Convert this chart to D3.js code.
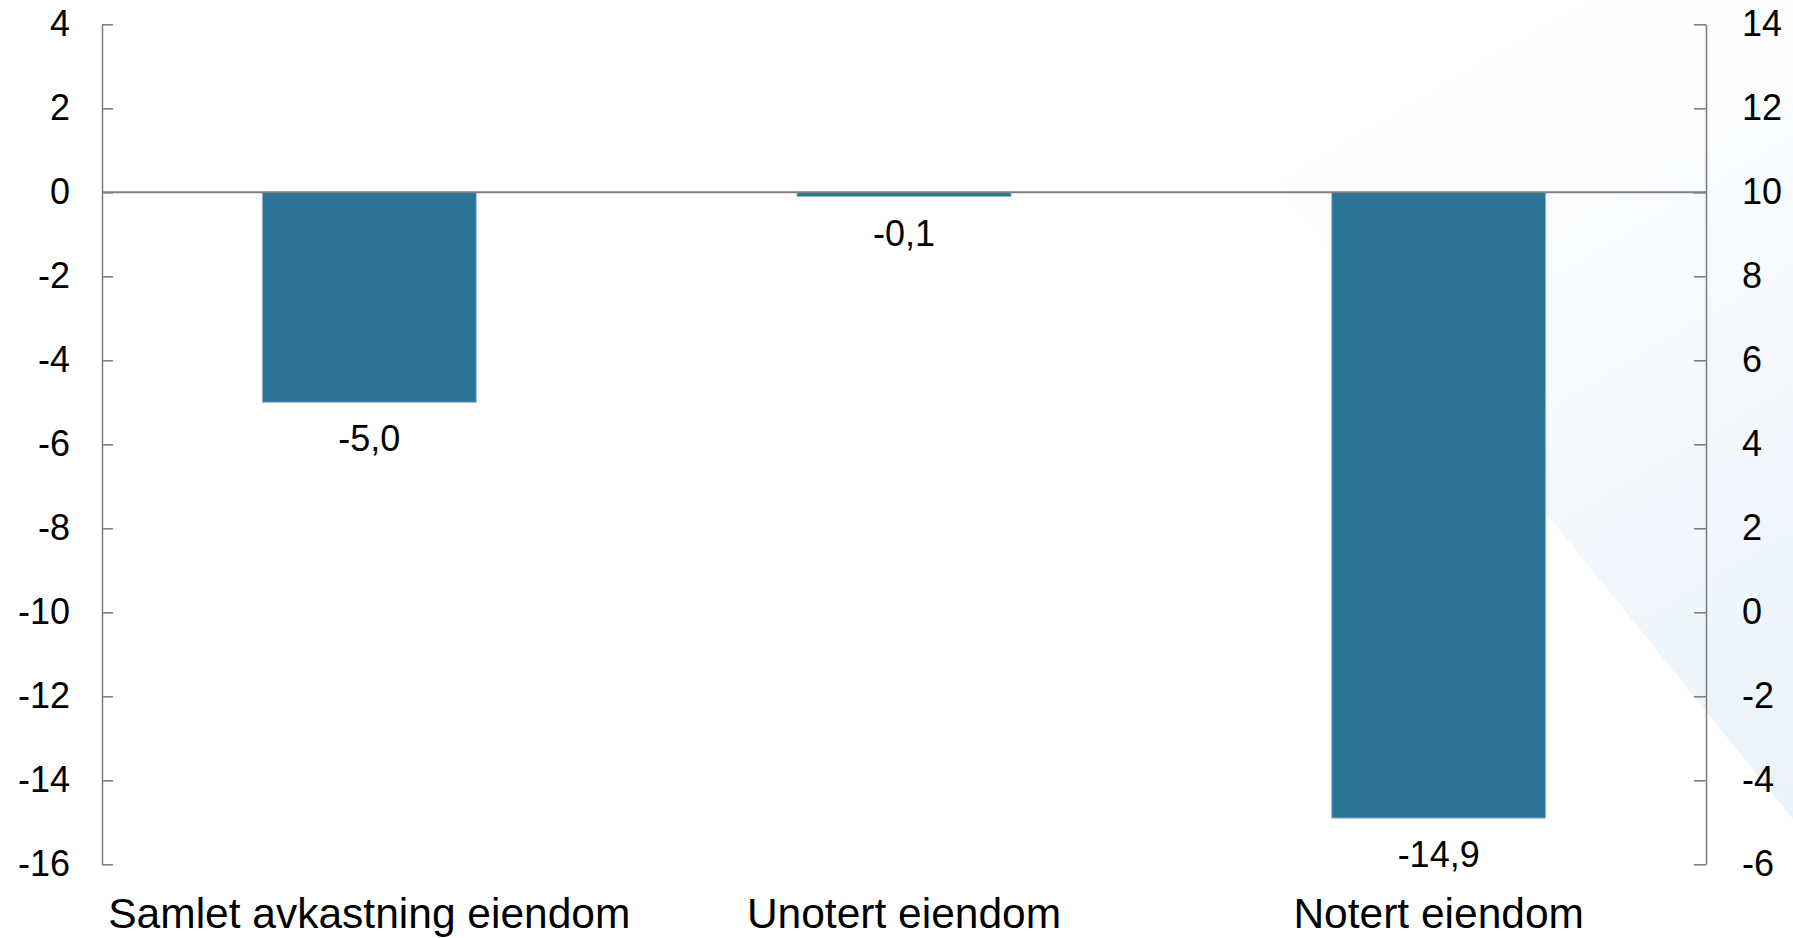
<!DOCTYPE html>
<html>
<head>
<meta charset="utf-8">
<script src="https://cdn.jsdelivr.net/npm/d3@7"></script>
<style>
  html, body { margin: 0; padding: 0; background: #ffffff; }
  svg { display: block; }
  text { font-family: "Liberation Sans", Arial, sans-serif; fill: #000; }
</style>
</head>
<body>
<svg id="chart" width="1793" height="938"></svg>
<script>
// ---- Data ----
const categories = ["Samlet avkastning eiendom", "Unotert eiendom", "Notert eiendom"];
const values = [-5.0, -0.1, -14.9];
const leftTicks = [4, 2, 0, -2, -4, -6, -8, -10, -12, -14, -16];
const rightTicks = [14, 12, 10, 8, 6, 4, 2, 0, -2, -4, -6];

(function () {
  // ---- Layout ----
  const plotL = 102, plotR = 1706, plotT = 24.3, plotB = 864.3;
  const svg = d3.select("#chart");

  const x = d3.scaleBand().domain(categories).range([plotL, plotR]).paddingInner(0.6).paddingOuter(0.3);
  const y = d3.scaleLinear().domain([4, -16]).range([plotT, plotB]);
  const y2 = d3.scaleLinear().domain([14, -6]).range([plotT, plotB]);

  // ---- Background decorative gradient shape ----
  const defs = svg.append("defs");
  const grad = defs.append("linearGradient").attr("id", "bgGrad")
    .attr("gradientUnits", "userSpaceOnUse")
    .attr("x1", 1380).attr("y1", 120).attr("x2", 1793).attr("y2", 820);
  grad.append("stop").attr("offset", "0").attr("stop-color", "#ffffff");
  grad.append("stop").attr("offset", "1").attr("stop-color", "#e9f2fb");
  svg.append("path")
    .attr("d", "M1132,0 L1793,0 L1793,819 Z")
    .attr("fill", "url(#bgGrad)");

  // ---- Bars ----
  svg.append("g").selectAll("rect").data(values).join("rect")
    .attr("x", (d, i) => x(categories[i]))
    .attr("width", x.bandwidth())
    .attr("y", d => y(Math.max(0, d)))
    .attr("height", d => Math.abs(y(d) - y(0)))
    .attr("fill", "#2c7398")
    .attr("stroke", "#8fb6cf")
    .attr("stroke-width", 1);

  // ---- Zero line ----
  svg.append("line")
    .attr("x1", plotL).attr("x2", plotR)
    .attr("y1", y(0)).attr("y2", y(0))
    .attr("stroke", "#808080").attr("stroke-width", 2);

  // ---- Axes ----
  const fmtTick = d => String(d);
  const gL = svg.append("g").attr("transform", `translate(${plotL},0)`)
    .call(d3.axisLeft(y).tickValues(leftTicks).tickFormat(fmtTick)
      .tickSizeInner(-11).tickSizeOuter(0).tickPadding(32));
  const gR = svg.append("g").attr("transform", `translate(${plotR},0)`)
    .call(d3.axisRight(y2).tickValues(rightTicks).tickFormat(fmtTick)
      .tickSizeInner(-12).tickSizeOuter(0).tickPadding(36));
  [gL, gR].forEach(g => {
    g.select(".domain").attr("stroke", "#808080").attr("stroke-width", 1.6);
    g.selectAll(".tick line").attr("stroke", "#808080").attr("stroke-width", 1.6);
    g.selectAll(".tick text")
      .attr("font-size", 36)
      .attr("font-family", "'Liberation Sans', Arial, sans-serif")
      .attr("fill", "#000");
  });

  // ---- Value labels ----
  const fmtVal = d => d3.format(".1f")(d).replace("\u2212", "-").replace(".", ",");
  svg.append("g").selectAll("text").data(values).join("text")
    .attr("x", (d, i) => x(categories[i]) + x.bandwidth() / 2)
    .attr("y", d => y(Math.min(0, d)) + 49)
    .attr("text-anchor", "middle")
    .attr("font-size", 36)
    .text(fmtVal);

  // ---- Category labels ----
  svg.append("g").selectAll("text").data(categories).join("text")
    .attr("x", d => x(d) + x.bandwidth() / 2)
    .attr("y", 928)
    .attr("text-anchor", "middle")
    .attr("font-size", 42.5)
    .text(d => d);
})();
</script>
</body>
</html>
